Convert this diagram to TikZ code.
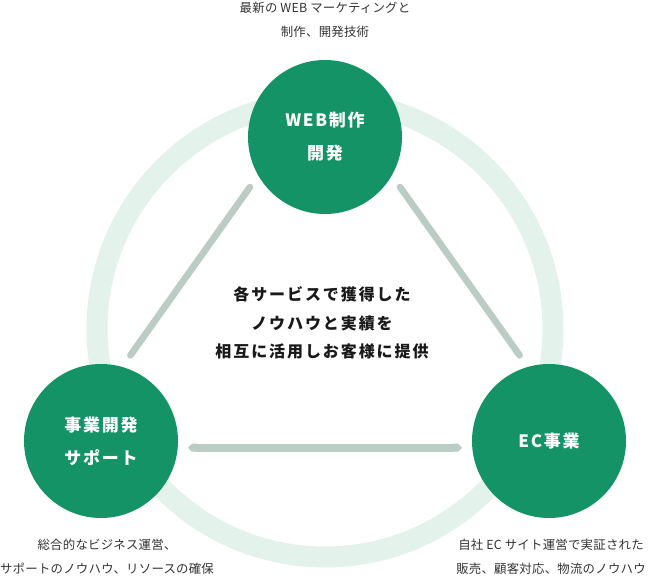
\documentclass[tikz,border=0pt]{standalone}
\usepackage{fontspec}
\setmainfont{Noto Sans CJK JP}
\usepackage{tikz}
\usetikzlibrary{arrows.meta}
\usepackage{xcolor}

\definecolor{maingreen}{HTML}{139366}
\definecolor{ringgreen}{HTML}{E4F2EC}
\definecolor{linkgray}{HTML}{BBCCC4}
\definecolor{textgray}{HTML}{333333}

\begin{document}
\begin{tikzpicture}[x=0.75pt, y=-0.75pt]
        % ================= 样式定义 =================
        \tikzset{
            % 业务圆:绿色实心圆,白色粗体字
            bizcircle/.style={circle, fill=maingreen, text=white, minimum size=115.5pt, inner sep=0pt, align=center,
                font={\fontsize{12.75}{24.75}\selectfont\bfseries\addfontfeature{LetterSpace=10}}},
            % 外部浅绿色圆环
            ring/.style={line width=15.75pt, draw=ringgreen},
            % 斜向连接线 (圆头)
            link/.style={line width=5pt, draw=linkgray, line cap=round, shorten <=10.5pt, shorten >=10.5pt},
            % 水平连接线 (尖头)
            hlink/.style={line width=6pt, draw=linkgray, {Triangle Cap}-{Triangle Cap}, shorten <=7.5pt, shorten >=7.5pt},
            % 说明文字
            desc/.style={align=center, text=textgray, inner sep=0pt,
                font={\fontsize{9.3}{18}\selectfont\addfontfeature{LetterSpace=2}}},
            % 中央文字
            centertext/.style={align=center, text=black!90, inner sep=0pt,
                font={\fontsize{12}{21.4}\selectfont\bfseries\addfontfeature{LetterSpace=12}}}
        }

        \useasboundingbox (0,0) rectangle (650,577);

        % ================= 外部圆环 =================
        \draw[ring] (325,329) circle (228);

        % ================= 三个业务圆 =================
        \node[bizcircle] (web) at (325,137) {WEB制作\\開発};
        \node[bizcircle] (biz) at (101,441) {事業開発\\サポート};
        \node[bizcircle] (ec) at (549,441) {EC事業};

        % 连接线
        \draw[link] (web.210) -- (biz.74);
        \draw[link] (web.330) -- (ec.106);
        \draw[hlink] (biz.-5) -- (ec.185);

        % 中央文字
        \node[centertext] (share) at (322,323) {各サービスで獲得した\\ノウハウと実績を\\相互に活用しお客様に提供};

        % 说明文字
        \node[desc] (webdesc) at (325,20) {最新の WEB マーケティングと\\制作、開発技術};
        \node[desc] (bizdesc) at (107,557) {総合的なビジネス運営、\\サポートのノウハウ、リソースの確保};
        \node[desc] (ecdesc) at (551,557) {自社 EC サイト運営で実証された\\販売、顧客対応、物流のノウハウ};

    \end{tikzpicture}
\end{document}
